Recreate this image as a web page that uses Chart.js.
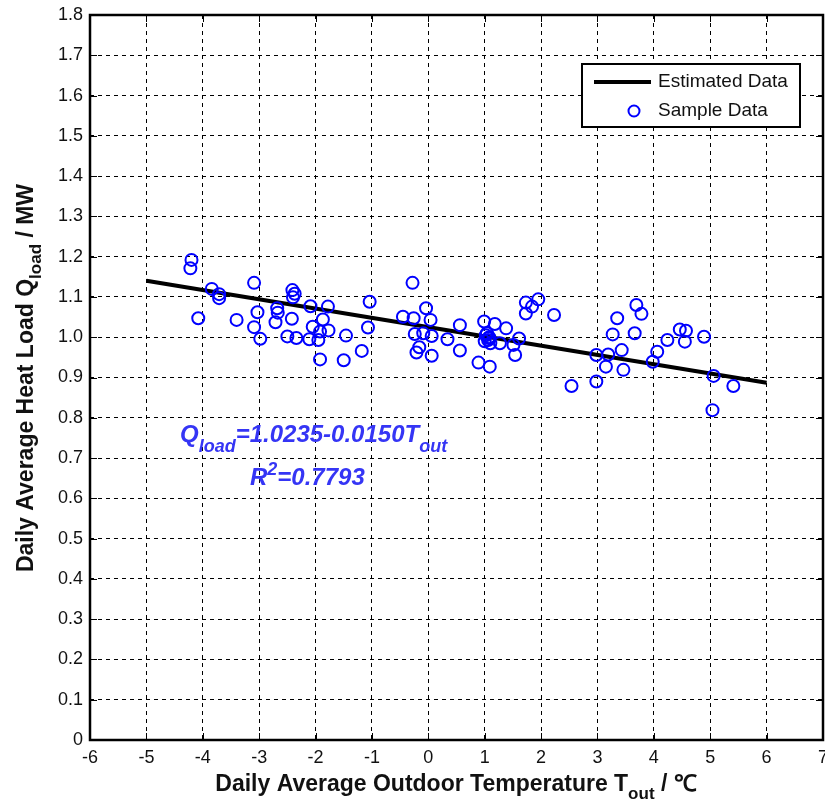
<!DOCTYPE html>
<html>
<head>
<meta charset="utf-8">
<script src="https://cdn.jsdelivr.net/npm/chart.js@4.4.1/dist/chart.umd.min.js"></script>
<style>
  html, body { margin: 0; background: #fff; overflow: hidden; width: 825px; height: 804px; }
  canvas { display: block; }
</style>
</head>
<body>
<canvas id="chart" width="831" height="804"></canvas>
<script>
// ─── DATA ───
const sampleT = [
  -4.20, -4.22, -4.08, -3.84, -3.71, -3.71, -3.40, -3.09, -3.03, -3.09, -2.98,
  -2.68, -2.67, -2.71, -2.41, -2.37, -2.40, -2.42, -2.50, -2.34,
  -2.09, -1.78, -1.87, -2.05, -1.92, -1.77, -2.11, -1.95, -1.46, -1.92, -1.50,
  -1.18, -1.04, -1.07, -0.28, -0.45, -0.26, -0.04, 0.04, -0.24, -0.09, 0.06,
  -0.16, -0.21, 0.06, 0.34, 0.56, 0.56, 0.99,
  1.02, 1.06, 1.08, 1.00, 1.10, 1.04, 1.07,
  1.18, 1.38, 1.61, 1.51, 1.54, 1.27, 0.89, 1.09,
  1.73, 1.84, 1.95, 1.73, 2.23, 2.54, 2.98, 2.98, 3.19, 3.43, 3.15, 3.46,
  3.35, 3.27, 3.66, 3.69, 3.78, 3.98, 4.06, 4.24, 4.46, 4.57, 4.55, 4.89,
  5.06, 5.41, 5.04
];
const sampleQ = [
  1.192, 1.171, 1.047, 1.120, 1.107, 1.097, 1.043, 1.135, 1.062, 1.025, 0.996,
  1.072, 1.061, 1.037, 1.117, 1.108, 1.099, 1.046, 1.002, 0.998,
  1.077, 1.076, 1.044, 1.026, 1.014, 1.017, 0.995, 0.993, 1.004, 0.945, 0.943,
  0.966, 1.088, 1.024, 1.135, 1.051, 1.047, 1.072, 1.043, 1.008, 1.010, 1.003,
  0.975, 0.962, 0.954, 0.995, 1.030, 0.967, 1.039,
  1.005, 0.993, 1.000, 0.990, 0.985, 1.010, 0.998,
  1.033, 1.022, 0.997, 0.981, 0.956, 0.985, 0.937, 0.927,
  1.086, 1.076, 1.094, 1.059, 1.055, 0.879, 0.890, 0.956, 0.957, 0.968, 0.927, 0.919,
  1.047, 1.007, 1.010, 1.080, 1.058, 0.939, 0.964, 0.993, 1.019, 1.016, 0.989, 1.001,
  0.904, 0.879, 0.819
];
const lineT = [-5, 6];
const lineQ = [1.140, 0.887];

const xMin = -6, xMax = 7, xStep = 1;
const yMin = 0, yMax = 1.8, yStep = 0.1;

const eqMain = '=1.0235-0.0150T';
const eqR2 = '=0.7793';
const xTitle = 'Daily Average Outdoor Temperature T';
const yTitle = 'Daily Average Heat Load Q';

const BLUE = '#0000ff';
const TEXT_BLUE = '#3535f5';
const INK = '#111';

// draw a run of text pieces; sub / sup pieces use a smaller font and shift
function drawRich(ctx, parts, x, y, align) {
  const widths = parts.map(p => { ctx.font = p.font; return ctx.measureText(p.t).width; });
  const total = widths.reduce((a, b) => a + b, 0);
  let cx = align === 'center' ? x - total / 2 : x;
  parts.forEach((p, i) => {
    ctx.font = p.font;
    ctx.fillText(p.t, cx, y + (p.dy || 0));
    cx += widths[i];
  });
}

const overlay = {
  id: 'overlay',
  afterDatasetsDraw(chart) {
    const { ctx, chartArea: a, scales } = chart;
    ctx.save();

    // inner tick marks
    ctx.strokeStyle = '#000';
    ctx.lineWidth = 1;
    ctx.setLineDash([]);
    scales.x.ticks.forEach(t => {
      const px = Math.round(scales.x.getPixelForValue(t.value)) + 0.5;
      ctx.beginPath();
      ctx.moveTo(px, a.bottom); ctx.lineTo(px, a.bottom - 7);
      ctx.moveTo(px, a.top); ctx.lineTo(px, a.top + 7);
      ctx.stroke();
    });
    scales.y.ticks.forEach(t => {
      const py = Math.round(scales.y.getPixelForValue(t.value)) + 0.5;
      ctx.beginPath();
      ctx.moveTo(a.left, py); ctx.lineTo(a.left + 7, py);
      ctx.moveTo(a.right, py); ctx.lineTo(a.right - 7, py);
      ctx.stroke();
    });

    // frame
    ctx.lineWidth = 2.5;
    ctx.strokeRect(a.left, a.top, a.right - a.left, a.bottom - a.top);

    // axis titles
    ctx.fillStyle = INK;
    ctx.textBaseline = 'alphabetic';
    const big = 'bold 23px Arial, "Liberation Sans", sans-serif';
    const small = 'bold 17px Arial, "Liberation Sans", sans-serif';
    drawRich(ctx, [
      { t: xTitle, font: big },
      { t: 'out', font: small, dy: 8 },
      { t: ' / ℃', font: big }
    ], 456, 791, 'center');

    ctx.save();
    ctx.translate(33, 378);
    ctx.rotate(-Math.PI / 2);
    drawRich(ctx, [
      { t: yTitle, font: big },
      { t: 'load', font: small, dy: 8 },
      { t: ' / MW', font: big }
    ], 0, 0, 'center');
    ctx.restore();

    // regression annotation
    ctx.fillStyle = TEXT_BLUE;
    const it = 'italic bold 24px Arial, "Liberation Sans", sans-serif';
    const itSmall = 'italic bold 18px Arial, "Liberation Sans", sans-serif';
    drawRich(ctx, [
      { t: 'Q', font: it },
      { t: 'load', font: itSmall, dy: 10 },
      { t: eqMain, font: it },
      { t: 'out', font: itSmall, dy: 10 }
    ], 180, 442, 'left');
    drawRich(ctx, [
      { t: 'R', font: it },
      { t: '2', font: itSmall, dy: -10 },
      { t: eqR2, font: it }
    ], 250, 485, 'left');

    // legend
    const lx = 582, ly = 64, lw = 218, lh = 63;
    ctx.fillStyle = '#fff';
    ctx.fillRect(lx, ly, lw, lh);
    ctx.strokeStyle = '#000';
    ctx.lineWidth = 2;
    ctx.strokeRect(lx, ly, lw, lh);
    ctx.lineWidth = 4;
    ctx.beginPath();
    ctx.moveTo(594, 82); ctx.lineTo(651, 82);
    ctx.stroke();
    ctx.strokeStyle = BLUE;
    ctx.lineWidth = 2;
    ctx.beginPath();
    ctx.arc(634, 111, 5.5, 0, Math.PI * 2);
    ctx.stroke();
    ctx.fillStyle = INK;
    ctx.font = '19px Arial, "Liberation Sans", sans-serif';
    ctx.textBaseline = 'middle';
    ctx.fillText('Estimated Data', 658, 82);
    ctx.fillText('Sample Data', 658, 111);

    ctx.restore();
  }
};

new Chart(document.getElementById('chart'), {
  type: 'scatter',
  data: {
    datasets: [
      {
        label: 'Estimated Data',
        type: 'line',
        data: lineT.map((t, i) => ({ x: t, y: lineQ[i] })),
        borderColor: '#000',
        borderWidth: 4,
        pointRadius: 0,
        fill: false,
        order: 1
      },
      {
        label: 'Sample Data',
        data: sampleT.map((t, i) => ({ x: t, y: sampleQ[i] })),
        borderColor: BLUE,
        backgroundColor: 'rgba(0,0,0,0)',
        borderWidth: 2,
        pointRadius: 6,
        pointStyle: 'circle',
        order: 0
      }
    ]
  },
  options: {
    responsive: false,
    animation: false,
    layout: { padding: { top: 15, right: 2, left: 0, bottom: 0 } },
    plugins: { legend: { display: false }, tooltip: { enabled: false } },
    scales: {
      x: {
        type: 'linear',
        min: xMin, max: xMax,
        ticks: {
          stepSize: xStep,
          color: INK,
          padding: 7,
          font: { family: 'Arial, "Liberation Sans", sans-serif', size: 18 },
          callback: v => String(v)
        },
        grid: { color: '#000', lineWidth: 1, drawTicks: false },
        border: { display: false, dash: [4, 4] },
        afterFit: s => { s.height = 64; s.paddingLeft = 0; s.paddingRight = 0; }
      },
      y: {
        type: 'linear',
        min: yMin, max: yMax,
        ticks: {
          stepSize: yStep,
          color: INK,
          padding: 7,
          font: { family: 'Arial, "Liberation Sans", sans-serif', size: 18 },
          callback: v => (Math.abs(v) < 1e-9 ? '0' : v.toFixed(1))
        },
        grid: { color: '#000', lineWidth: 1, drawTicks: false },
        border: { display: false, dash: [4, 4] },
        afterFit: s => { s.width = 90; s.paddingTop = 0; s.paddingBottom = 0; }
      }
    }
  },
  plugins: [overlay]
});
</script>
</body>
</html>
